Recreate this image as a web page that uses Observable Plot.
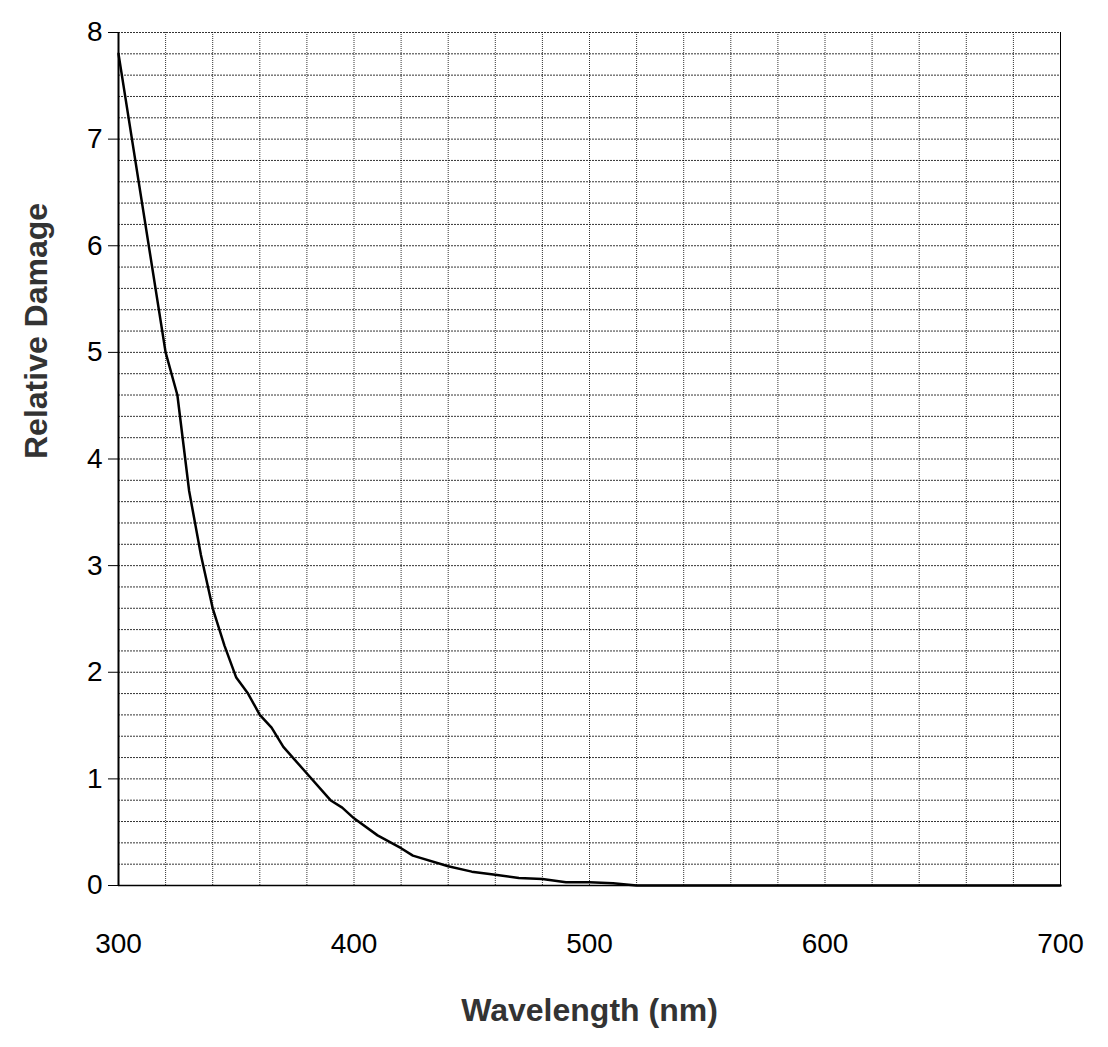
<!DOCTYPE html>
<html><head><meta charset="utf-8">
<script src="https://cdn.jsdelivr.net/npm/d3@7"></script>
<script src="https://cdn.jsdelivr.net/npm/@observablehq/plot@0.6"></script>
<style>body{margin:0;background:#fff;font-family:"Liberation Sans",Arial,sans-serif}</style>
</head><body><div id="chart"></div>
<script>
const wavelength = [300,310,320,325,330,335,340,345,350,355,360,365,370,380,390,395,400,410,420,425,440,450,460,470,480,490,500,510,520,600,700];
const damage =     [7.8,6.4,5.0,4.6,3.7,3.1,2.6,2.25,1.95,1.8,1.6,1.48,1.3,1.05,0.8,0.73,0.63,0.47,0.35,0.28,0.18,0.13,0.1,0.07,0.06,0.03,0.03,0.02,0,0,0];
const xTicks = [300,400,500,600,700];
const yTicks = [0,1,2,3,4,5,6,7,8];
const data = wavelength.map((w,i)=>({w, d: damage[i]}));

const plot = Plot.plot({
  width: 1108, height: 1047,
  marginLeft: 118, marginRight: 48, marginTop: 32, marginBottom: 162,
  style: {fontFamily: '"Liberation Sans",Arial,sans-serif', fontSize: "28px", color: "#000"},
  x: {domain: [300,700]},
  y: {domain: [0,8]},
  marks: [
    Plot.gridX(d3.range(320,701,20), {stroke: "#000", strokeOpacity: 0.8, strokeDasharray: "1,1"}),
    Plot.gridY(d3.range(0.2,8.01,0.2), {stroke: "#000", strokeOpacity: 0.8, strokeDasharray: "2,1"}),
    Plot.axisX(xTicks, {tickSize: 0, tickPadding: 48, fontSize: 28, tickFormat: "d", label: null}),
    Plot.axisY(yTicks, {tickSize: 10, tickPadding: 6, fontSize: 28, tickFormat: "d", label: null}),
    Plot.ruleY([0], {stroke: "#000", strokeWidth: 1.5}),
    Plot.ruleX([300], {stroke: "#000", strokeWidth: 2}),
    Plot.ruleX([700], {stroke: "#000", strokeWidth: 1}),
    Plot.line(data, {x: "w", y: "d", stroke: "#000", strokeWidth: 2.5}),
    Plot.text(["Wavelength (nm)"], {frameAnchor: "bottom", dy: 135, fontSize: 32, fontWeight: "bold", fill: "#333"}),
    Plot.text(["Relative Damage"], {frameAnchor: "left", dx: -82, rotate: -90, fontSize: 32, fontWeight: "bold", fill: "#333"})
  ]
});
document.querySelector("#chart").append(plot);
</script></body></html>
